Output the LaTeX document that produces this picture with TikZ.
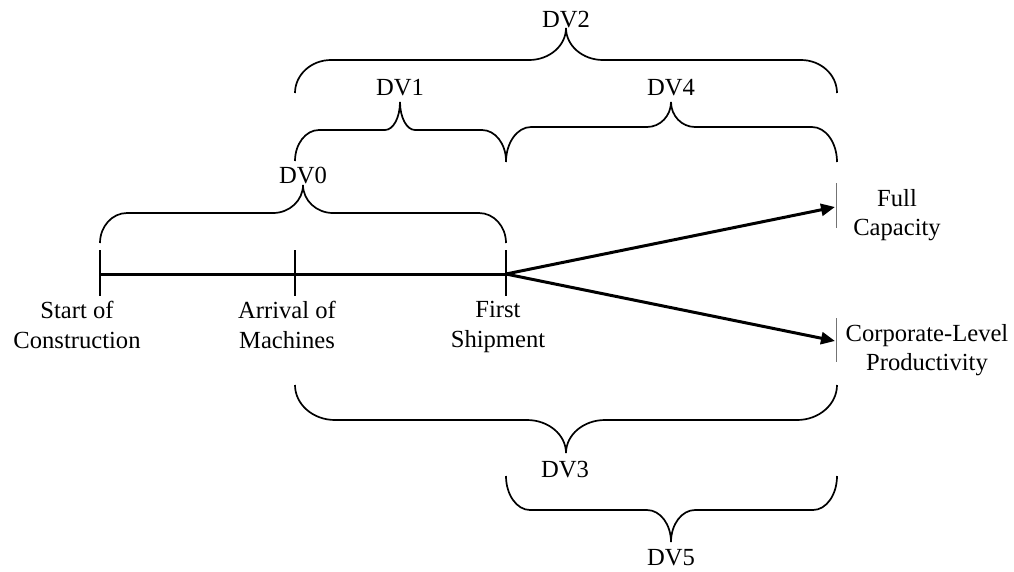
\documentclass[tikz,border=0pt]{standalone}
\usepackage{fontspec}
\setmainfont{Liberation Serif}
\usetikzlibrary{arrows.meta}

% curly brace: x-left, x-right, x-tip, y-ends, y-flat, y-tip, end radius, tip radius
\newcommand{\dvbrace}[8]{%
  \draw[bracestyle] (#1,#4)
    .. controls (#1,{#4+0.552*(#5-#4)}) and ({#1+0.448*#7},#5) .. ({#1+#7},#5)
    -- ({#3-#8},#5)
    .. controls ({#3-0.448*#8},#5) and (#3,{#6+0.552*(#5-#6)}) .. (#3,#6)
    .. controls (#3,{#6+0.552*(#5-#6)}) and ({#3+0.448*#8},#5) .. ({#3+#8},#5)
    -- ({#2-#7},#5)
    .. controls ({#2-0.448*#7},#5) and (#2,{#4+0.552*(#5-#4)}) .. (#2,#4);}

\begin{document}
\begin{tikzpicture}[x=1pt,y=-1pt,
  lbl/.style={inner sep=0pt,align=center,anchor=north,
    font=\fontsize{24.6}{29.5}\selectfont},
  dvlbl/.style={inner sep=0pt,anchor=base,font=\fontsize{24.6}{29.5}\selectfont},
  bracestyle/.style={line width=1.7pt},
  tickmark/.style={line width=1.7pt},
  timeline/.style={line width=3pt},
  outcome/.style={line width=3pt,-{Triangle[length=14pt,width=12pt]}},
  boxedge/.style={line width=0.8pt,black!55}]
\useasboundingbox (0,0) rectangle (1014,571);

% milestones on the time line
\coordinate (tS) at (100,274);
\coordinate (tA) at (295,274);
\coordinate (tF) at (506,274);
\draw[timeline] (tS) -- (tF);
\draw[tickmark] (100,250) -- (100,296);
\draw[tickmark] (295,250) -- (295,296);
\draw[tickmark] (506,250) -- (506,296);

\node[lbl] (start) at (77,301.2) {Start of\\Construction};
\node[lbl] (arrival) at (287,301.2) {Arrival of\\Machines};
\node[lbl] (first) at (498,301.2) {First\\Shipment};

% outcomes
\coordinate (fullTip) at (835,207);
\coordinate (corpTip) at (835,341);
\draw[outcome] (tF) -- (fullTip);
\draw[outcome] (tF) -- (corpTip);
\draw[boxedge] (836,183) -- (836,228);
\draw[boxedge] (836,318) -- (836,362);
\node[lbl] (full) at (897,189.2) {Full\\Capacity};
\node[lbl] (corp) at (927,324.2) {Corporate-Level\\Productivity};

% braces above the time line
\dvbrace{100}{506}{303}{243}{213}{185}{27}{30}
\node[dvlbl] (dv0) at (303,183) {DV0};
\dvbrace{295}{506}{400}{161}{130}{102}{24}{15}
\node[dvlbl] (dv1) at (400,95) {DV1};
\dvbrace{506}{837}{671}{162}{127}{102}{25}{24}
\node[dvlbl] (dv4) at (671,95) {DV4};
\dvbrace{295}{837}{566}{93}{60}{28}{36}{37}
\node[dvlbl] (dv2) at (566,27) {DV2};

% braces below the time line
\dvbrace{295}{837}{566}{385}{420}{453}{40}{39}
\node[dvlbl] (dv3) at (565,477) {DV3};
\dvbrace{506}{837}{671}{476}{510}{542}{24}{24}
\node[dvlbl] (dv5) at (671,565) {DV5};
\end{tikzpicture}
\end{document}
